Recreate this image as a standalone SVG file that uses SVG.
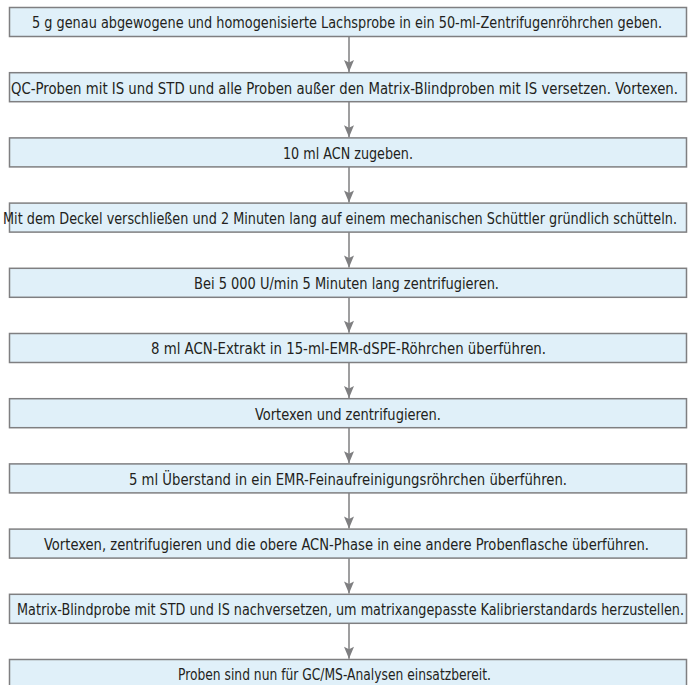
<svg xmlns="http://www.w3.org/2000/svg" width="688" height="685" viewBox="0 0 688 685">
<style>
.box rect{fill:#e0f0f9;stroke:#7f7f81;stroke-width:1.5}
.box text{font-family:"DejaVu Sans Condensed","DejaVu Sans",sans-serif;font-stretch:condensed;font-size:15.5px;fill:#231f20;text-anchor:middle}
.conn line{stroke:#7f7f81;stroke-width:1.5;fill:none}
</style>
<defs>
<marker id="ah" markerUnits="userSpaceOnUse" viewBox="-1 -6 14 12" markerWidth="14" markerHeight="12" refX="12" refY="0" orient="auto">
<path d="M0,-5 L12,0 L0,5 L2.5,0 z" fill="#7f7f81"/>
</marker>
</defs>
<rect width="688" height="685" fill="#ffffff"/>
<g id="connectors" class="conn">
<line x1="349" y1="36.5" x2="349" y2="72" marker-end="url(#ah)"/>
<line x1="349" y1="101.7" x2="349" y2="137.2" marker-end="url(#ah)"/>
<line x1="349" y1="166.9" x2="349" y2="202.4" marker-end="url(#ah)"/>
<line x1="349" y1="232.1" x2="349" y2="267.6" marker-end="url(#ah)"/>
<line x1="349" y1="297.3" x2="349" y2="332.8" marker-end="url(#ah)"/>
<line x1="349" y1="362.5" x2="349" y2="398" marker-end="url(#ah)"/>
<line x1="349" y1="427.7" x2="349" y2="463.2" marker-end="url(#ah)"/>
<line x1="349" y1="492.9" x2="349" y2="528.4" marker-end="url(#ah)"/>
<line x1="349" y1="558.1" x2="349" y2="593.6" marker-end="url(#ah)"/>
<line x1="349" y1="623.3" x2="349" y2="658.8" marker-end="url(#ah)"/>
</g>
<g id="n1" class="box"><rect x="9.5" y="7.5" width="677" height="29"/><text x="347" y="28.3" textLength="630" lengthAdjust="spacingAndGlyphs">5 g genau abgewogene und homogenisierte Lachsprobe in ein 50-ml-Zentrifugenröhrchen geben.</text></g>
<g id="n2" class="box"><rect x="9.5" y="72.7" width="677" height="29"/><text x="344.5" y="93.5" textLength="667" lengthAdjust="spacingAndGlyphs">QC-Proben mit IS und STD und alle Proben außer den Matrix-Blindproben mit IS versetzen. Vortexen.</text></g>
<g id="n3" class="box"><rect x="9.5" y="137.9" width="677" height="29"/><text x="348" y="158.7" textLength="130" lengthAdjust="spacingAndGlyphs">10 ml ACN zugeben.</text></g>
<g id="n4" class="box"><rect x="9.5" y="203.1" width="677" height="29"/><text x="340" y="223.9" textLength="674" lengthAdjust="spacingAndGlyphs">Mit dem Deckel verschließen und 2 Minuten lang auf einem mechanischen Schüttler gründlich schütteln.</text></g>
<g id="n5" class="box"><rect x="9.5" y="268.3" width="677" height="29"/><text x="346.5" y="289.1" textLength="305" lengthAdjust="spacingAndGlyphs">Bei 5 000 U/min 5 Minuten lang zentrifugieren.</text></g>
<g id="n6" class="box"><rect x="9.5" y="333.5" width="677" height="29"/><text x="348.5" y="354.3" textLength="395" lengthAdjust="spacingAndGlyphs">8 ml ACN-Extrakt in 15-ml-EMR-dSPE-Röhrchen überführen.</text></g>
<g id="n7" class="box"><rect x="9.5" y="398.7" width="677" height="29"/><text x="348" y="419.5" textLength="186" lengthAdjust="spacingAndGlyphs">Vortexen und zentrifugieren.</text></g>
<g id="n8" class="box"><rect x="9.5" y="463.9" width="677" height="29"/><text x="348" y="484.7" textLength="438" lengthAdjust="spacingAndGlyphs">5 ml Überstand in ein EMR-Feinaufreinigungsröhrchen überführen.</text></g>
<g id="n9" class="box"><rect x="9.5" y="529.1" width="677" height="29"/><text x="346.5" y="549.9" textLength="605" lengthAdjust="spacingAndGlyphs">Vortexen, zentrifugieren und die obere ACN-Phase in eine andere Probenflasche überführen.</text></g>
<g id="n10" class="box"><rect x="9.5" y="594.3" width="677" height="29"/><text x="350.5" y="615.1" textLength="667" lengthAdjust="spacingAndGlyphs">Matrix-Blindprobe mit STD und IS nachversetzen, um matrixangepasste Kalibrierstandards herzustellen.</text></g>
<g id="n11" class="box"><rect x="9.5" y="659.5" width="677" height="29"/><text x="334.5" y="680.3" textLength="313" lengthAdjust="spacingAndGlyphs">Proben sind nun für GC/MS-Analysen einsatzbereit.</text></g>
</svg>
